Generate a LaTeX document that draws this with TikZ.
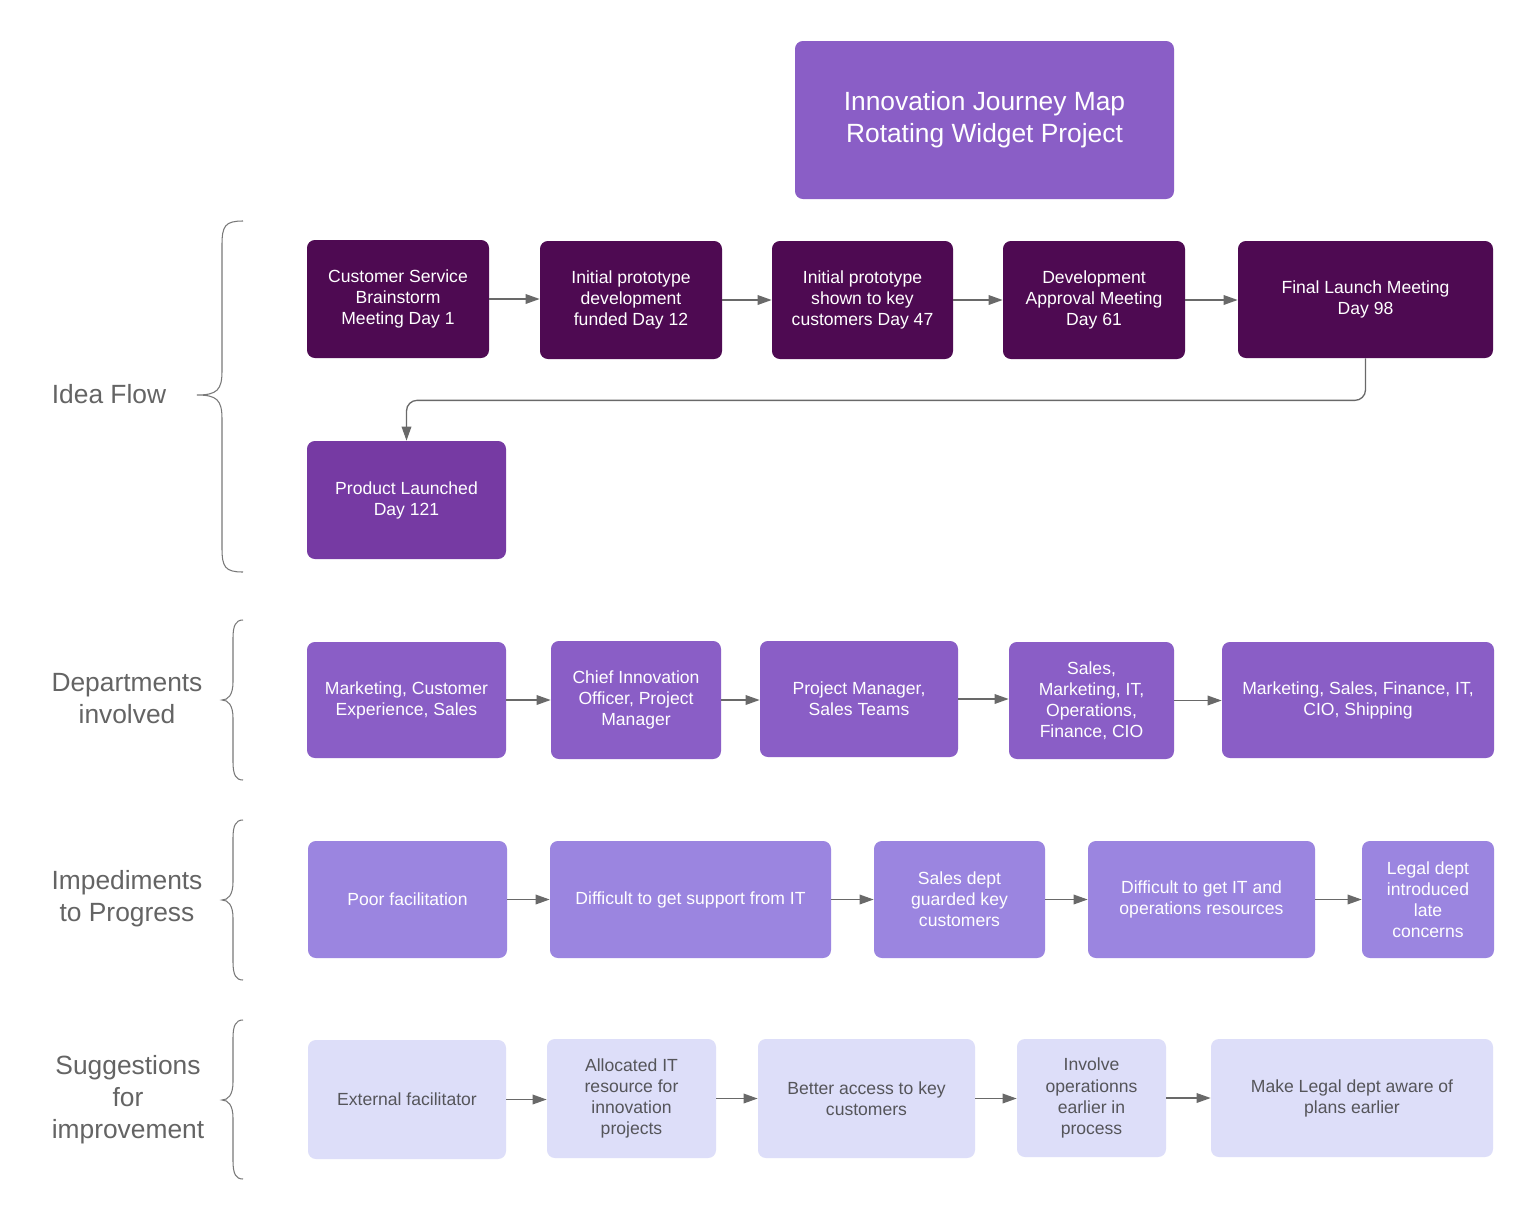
\documentclass[tikz,border=0pt]{standalone}
\usepackage{fontspec}
\setmainfont{Liberation Sans}
\usetikzlibrary{arrows.meta}
\definecolor{cdark}{RGB}{78,10,82}
\definecolor{cprod}{RGB}{118,58,163}
\definecolor{cmed}{RGB}{138,94,198}
\definecolor{cimp}{RGB}{155,133,224}
\definecolor{csug}{RGB}{221,222,249}
\definecolor{csugtext}{RGB}{85,85,90}
\definecolor{clab}{RGB}{100,100,100}
\definecolor{carr}{RGB}{105,105,105}
\definecolor{cbrace}{RGB}{120,120,120}
\newcommand\bx[7]{%
  \pgfmathsetmacro\myBW{(#4-#3)*0.02}%
  \pgfmathsetmacro\myBH{(#6-#5)*0.02}%
  \pgfmathsetmacro\myCX{(#3+#4)/2}%
  \pgfmathsetmacro\myCY{(#5+#6)/2}%
  \node[#1,minimum width=\myBW cm,minimum height=\myBH cm] (#2) at (\myCX,\myCY) {#7};}
\newcommand\mybrace[7]{%
  \draw[bracestyle] (#1,#4) .. controls (#2+3,#4) and (#2,#4+5) .. (#2,#4+#7)
    -- (#2,#5-#7) .. controls (#2,#5-5) and (#2-5,#5) .. (#3,#5)
    .. controls (#2-5,#5) and (#2,#5+5) .. (#2,#5+#7)
    -- (#2,#6-#7) .. controls (#2,#6-5) and (#2+3,#6) .. (#1,#6);}
\begin{document}
\begin{tikzpicture}[x=0.02cm,y=-0.02cm,
  box/.style={rectangle,rounded corners=4.5pt,inner sep=0pt,align=center,
    font=\fontsize{10}{12}\selectfont,text=white},
  dbox/.style={box,fill=cdark},
  pbox/.style={box,fill=cprod},
  mbox/.style={box,fill=cmed},
  ibox/.style={box,fill=cimp},
  sbox/.style={box,fill=csug,text=csugtext},
  titlebox/.style={box,fill=cmed,font=\fontsize{15}{18.2}\selectfont},
  lab/.style={font=\fontsize{15}{18.2}\selectfont,text=clab,align=center,inner sep=0pt},
  arr/.style={draw=carr,line width=0.75pt,-{Triangle[length=8pt,width=5.5pt]}},
  bracestyle/.style={draw=cbrace,line width=0.6pt}]
\fill[white] (0,0) rectangle (1535,1221);
\useasboundingbox (0,0) rectangle (1535,1221);

% title
\bx{titlebox}{t}{795}{1174}{41}{199}{Innovation Journey Map\\Rotating Widget Project}

% row 1
\bx{dbox}{a1}{307}{489}{240}{358}{Customer Service\\Brainstorm\\Meeting Day 1}
\bx{dbox}{a2}{540}{722}{241}{359}{Initial prototype\\development\\funded Day 12}
\bx{dbox}{a3}{772}{953}{241}{359}{Initial prototype\\shown to key\\customers Day 47}
\bx{dbox}{a4}{1003}{1185}{241}{359}{Development\\Approval Meeting\\Day 61}
\bx{dbox}{a5}{1238}{1493}{241}{358}{Final Launch Meeting\\Day 98}
\bx{pbox}{a6}{307}{506}{441}{559}{Product Launched\\Day 121}

% row 2
\bx{mbox}{d1}{307}{506}{642}{758}{Marketing, Customer\\Experience, Sales}
\bx{mbox}{d2}{551}{721}{641}{759}{Chief Innovation\\Officer, Project\\Manager}
\bx{mbox}{d3}{760}{958}{641}{757}{Project Manager,\\Sales Teams}
\bx{mbox}{d4}{1009}{1174}{642}{759}{Sales,\\Marketing, IT,\\Operations,\\Finance, CIO}
\bx{mbox}{d5}{1222}{1494}{642}{758}{Marketing, Sales, Finance, IT,\\CIO, Shipping}

% row 3
\bx{ibox}{i1}{308}{507}{841}{958}{Poor facilitation}
\bx{ibox}{i2}{550}{831}{841}{958}{Difficult to get support from IT}
\bx{ibox}{i3}{874}{1045}{841}{958}{Sales dept\\guarded key\\customers}
\bx{ibox}{i4}{1088}{1315}{841}{958}{Difficult to get IT and\\operations resources}
\bx{ibox}{i5}{1362}{1494}{841}{958}{Legal dept\\introduced\\late\\concerns}

% row 4
\bx{sbox}{s1}{308}{506}{1040}{1159}{External facilitator}
\bx{sbox}{s2}{547}{716}{1039}{1158}{Allocated IT\\resource for\\innovation\\projects}
\bx{sbox}{s3}{758}{975}{1039}{1158}{Better access to key\\customers}
\bx{sbox}{s4}{1017}{1166}{1039}{1157}{Involve\\operationns\\earlier in\\process}
\bx{sbox}{s5}{1211}{1493}{1039}{1157}{Make Legal dept aware of\\plans earlier}

% connectors
\draw[arr] (a1.east) -- (a1.east -| a2.west);
\draw[arr] (a2.east) -- (a2.east -| a3.west);
\draw[arr] (a3.east) -- (a3.east -| a4.west);
\draw[arr] (a4.east) -- (a4.east -| a5.west);
\draw[arr,rounded corners=6pt] (a5.south) -- ++(0,42) -| (a6.north);

\draw[arr] (d1.east) -- (d1.east -| d2.west);
\draw[arr] (d2.east) -- (d2.east -| d3.west);
\draw[arr] (d3.east) -- (d3.east -| d4.west);
\draw[arr] (d4.east) -- (d4.east -| d5.west);

\draw[arr] (i1.east) -- (i1.east -| i2.west);
\draw[arr] (i2.east) -- (i2.east -| i3.west);
\draw[arr] (i3.east) -- (i3.east -| i4.west);
\draw[arr] (i4.east) -- (i4.east -| i5.west);

\draw[arr] (s1.east) -- (s1.east -| s2.west);
\draw[arr] (s2.east) -- (s2.east -| s3.west);
\draw[arr] (s3.east) -- (s3.east -| s4.west);
\draw[arr] (s4.east) -- (s4.east -| s5.west);

% labels
\node[lab] (l1) at (109,394) {Idea Flow};
\node[lab] (l2) at (127,699) {Departments\\involved};
\node[lab] (l3) at (127,899) {Impediments\\to Progress};
\node[lab] (l4) at (128,1100) {Suggestions\\for\\improvement};

% braces
\mybrace{243}{222}{197}{221}{395}{572}{24}
\mybrace{243}{233}{222}{620}{700}{780}{18}
\mybrace{243}{233}{222}{820}{900}{980}{18}
\mybrace{243}{233}{222}{1020}{1100}{1179}{18}
\end{tikzpicture}
\end{document}
